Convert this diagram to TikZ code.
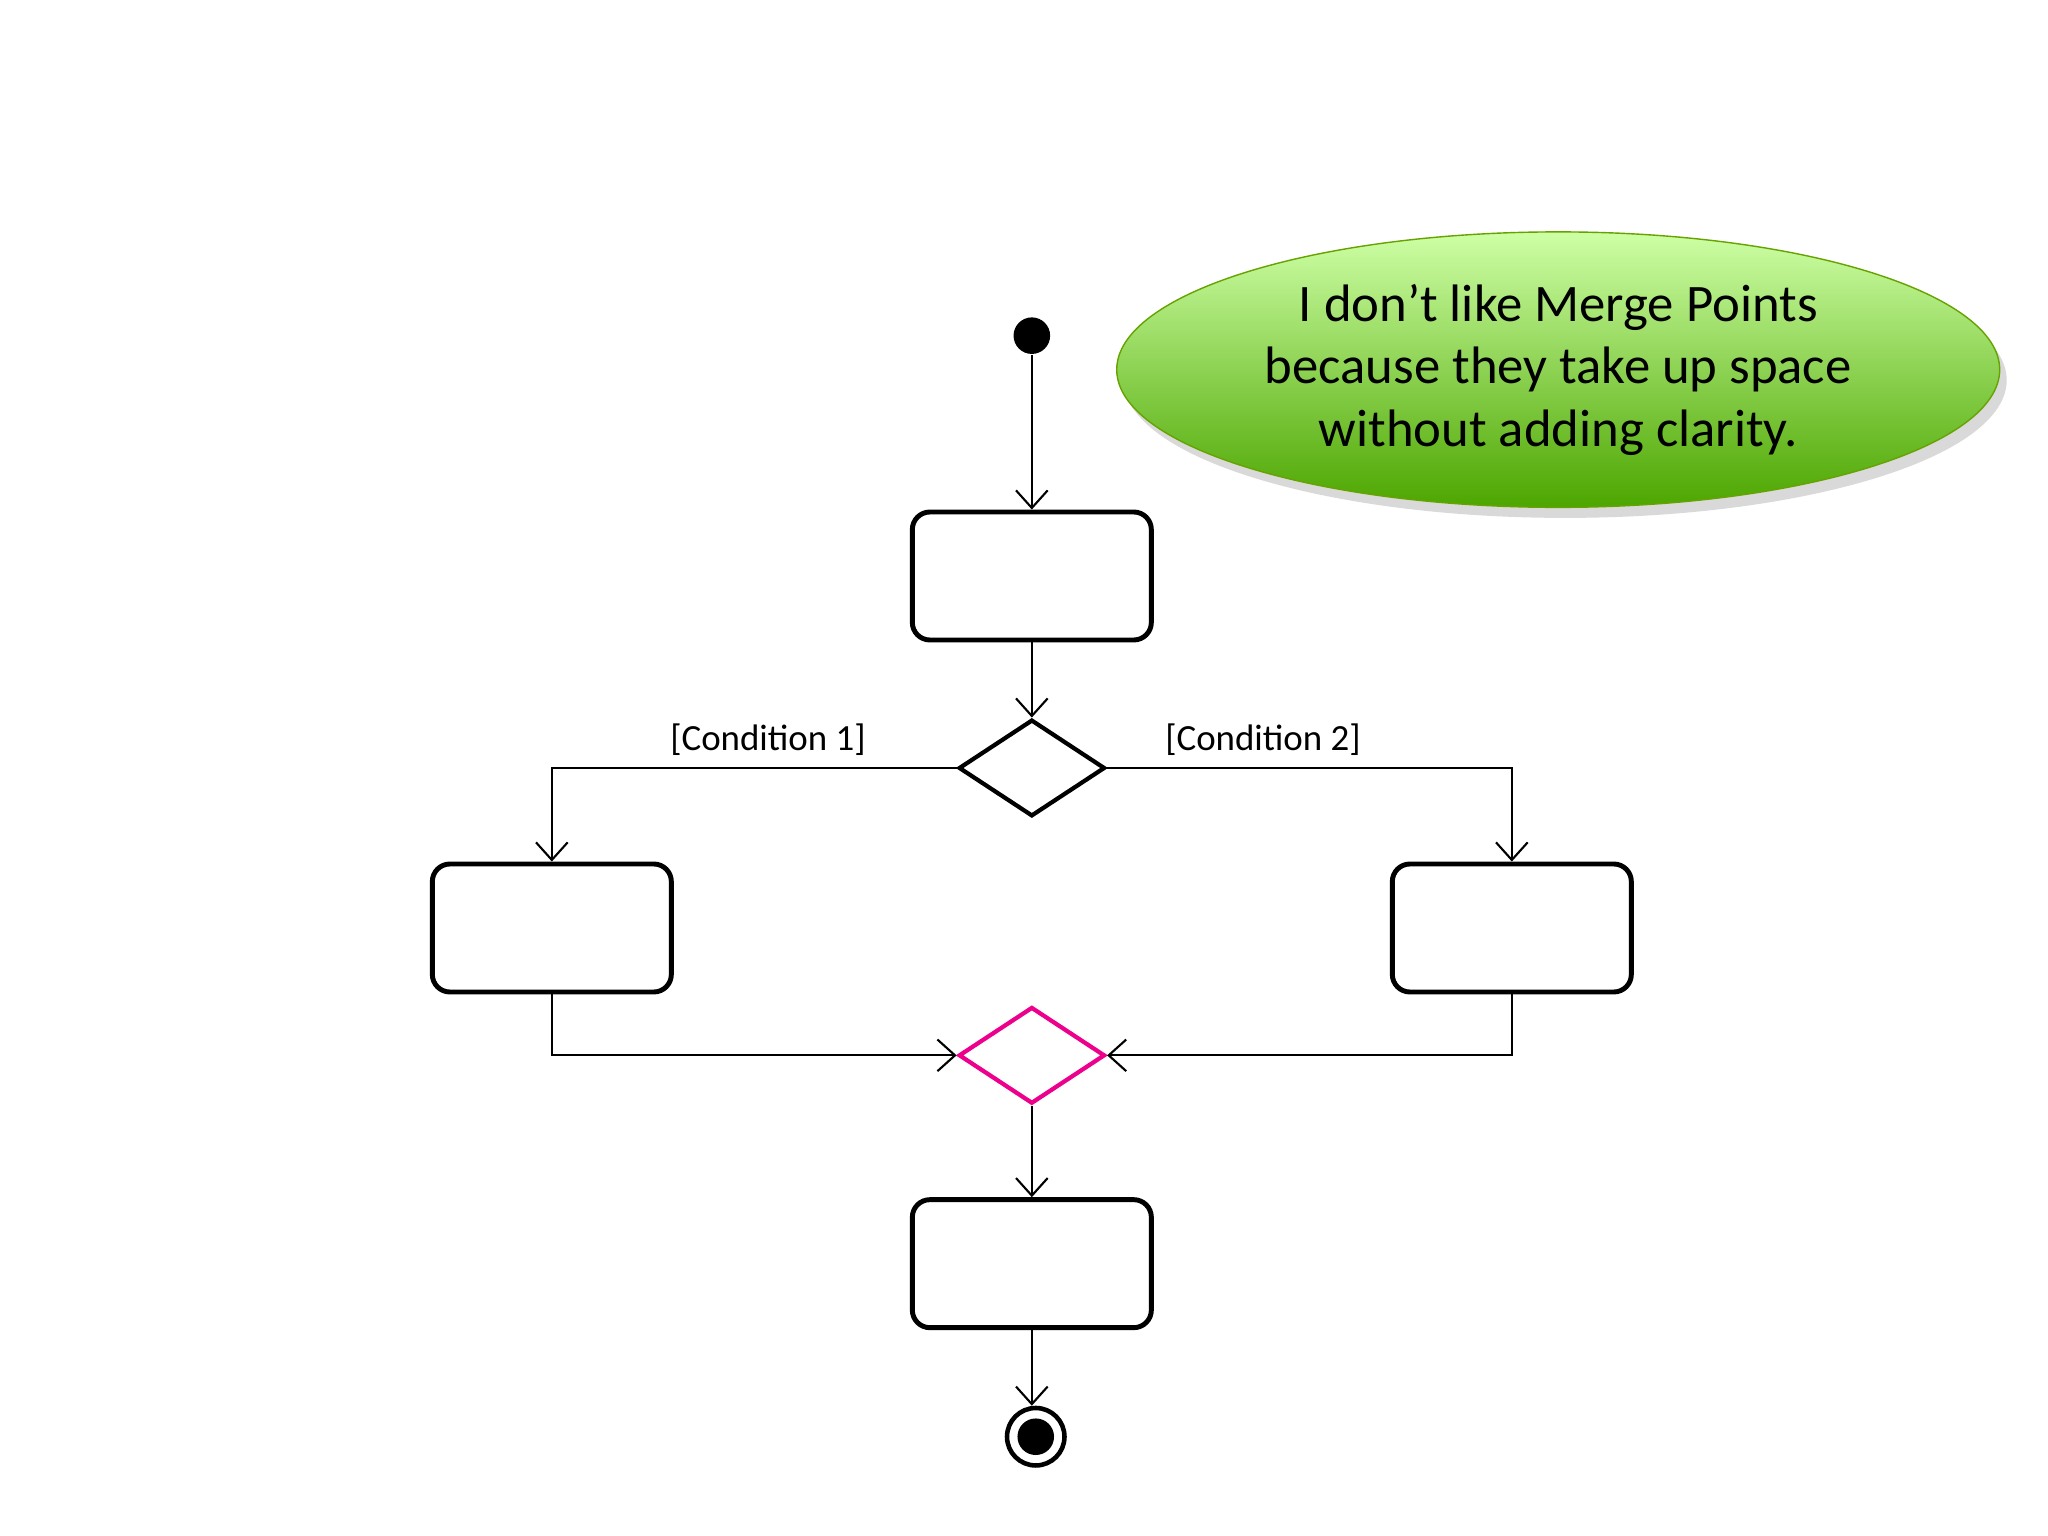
\documentclass[tikz,border=0pt]{standalone}
\usepackage{fontspec}
\setmainfont{Carlito}
\usetikzlibrary{shapes.geometric,arrows.meta,shadows}
\begin{document}
\begin{tikzpicture}[x=0.01306cm,y=-0.01306cm,
  act/.style={draw,line width=1.4pt,rounded corners=5pt,minimum width=183*0.01306cm,minimum height=98*0.01306cm,inner sep=0},
  dec/.style={diamond,draw,line width=1.2pt,minimum width=112*0.01306cm,minimum height=74*0.01306cm,inner sep=0,aspect=1.5},
  flow/.style={line width=0.6pt,-{Straight Barb[length=5pt,width=9pt]}},
  lab/.style={font=\fontsize{10.5pt}{12pt}\selectfont}]
\useasboundingbox (0,0) rectangle (1568,1176);
\node[circle,fill,inner sep=0,minimum size=28*0.01306cm] (s) at (790,257) {};
\node[act] (a1) at (790,441) {};
\node[dec] (d1) at (790,588) {};
\node[act] (l) at (422.5,710.5) {};
\node[act] (r) at (1157.5,710.5) {};
\node[dec,draw=magenta] (m) at (790,808) {};
\node[act] (a3) at (790,967.5) {};
\node[circle,draw,line width=1.3pt,inner sep=0,minimum size=44*0.01306cm] (f) at (793,1100) {};
\fill (f.center) circle (14);
\draw[flow] (s) -- (a1);
\draw[flow] (a1) -- (d1);
\draw[flow] (d1.west) -| (l.north);
\draw[flow] (d1.east) -| (r.north);
\draw[flow] (l.south) |- (m.west);
\draw[flow] (r.south) |- (m.east);
\draw[flow] (m) -- (a3);
\draw[flow] (a3) -- (f.north -| a3);
\node[lab] at (588,566) {[Condition 1]};
\node[lab] at (967,566) {[Condition 2]};
\node[ellipse,minimum width=676*0.01306cm,minimum height=194*0.01306cm,
  top color=green!55!yellow!35!white,bottom color=green!50!black!70!yellow,
  draw=green!40!black!60!yellow,line width=0.4pt,
  drop shadow={opacity=0.3,shadow xshift=2pt,shadow yshift=-3pt},
  align=center,font=\fontsize{15pt}{17.8pt}\selectfont] (e) at (1193,283)
  {I don’t like Merge Points\\because they take up space\\without adding clarity.};
\end{tikzpicture}
\end{document}
